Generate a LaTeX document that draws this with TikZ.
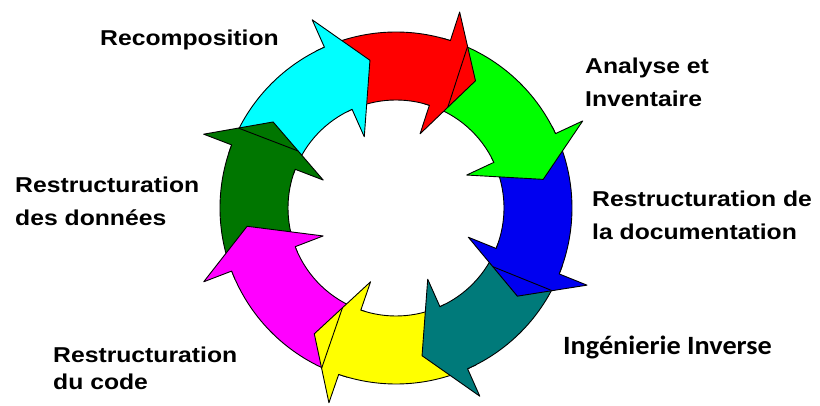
\documentclass[tikz,border=0pt]{standalone}
\usepackage{fontspec}
\setmainfont{Liberation Sans}
\newfontfamily\labelfont{Liberation Sans}[FakeStretch=1.15]
\newfontfamily\invfont{Carlito}[FakeStretch=1.07]
\usetikzlibrary{calc}

\definecolor{cycCyan}{RGB}{0,255,255}
\definecolor{cycRed}{RGB}{255,0,0}
\definecolor{cycGreen}{RGB}{0,255,0}
\definecolor{cycBlue}{RGB}{0,0,240}
\definecolor{cycTeal}{RGB}{0,122,122}
\definecolor{cycYellow}{RGB}{255,255,0}
\definecolor{cycMagenta}{RGB}{255,0,255}
\definecolor{cycDark}{RGB}{0,118,0}

\tikzset{
  ring/.style={draw=black, line width=0.9pt, line join=round},
  lbl/.style={inner sep=0pt, anchor=base west, align=left,
    font={\labelfont\bfseries\fontsize{21.5pt}{33pt}\selectfont}},
}

\begin{document}
\begin{tikzpicture}[x=1pt, y=1pt]

    % --- Adjustable parameters ---
    \def\outerR{176}  % outer radius of the ring
    \def\innerR{108}  % inner radius of the ring
    \def\barbOut{206} % outer barb of a head
    \def\barbIn{78}   % inner barb of a head
    \def\tipR{150}    % radius of the tip
    \def\headLen{14}  % angular length of a head

    \useasboundingbox (-396,-198) rectangle (424,208);

    % --- Ring bodies (clockwise) ---
    \foreach \col/\s/\e in {cycDark/201/159, cycCyan/159/114, cycRed/114/72,
        cycGreen/72/25, cycBlue/25/-22, cycTeal/-22/-66,
        cycYellow/-66/-109, cycMagenta/-109/-159}
      \draw[ring, fill=\col] (\s:\outerR)
        arc[start angle=\s, end angle=\e, radius=\outerR]
        -- (\e:\innerR) arc[start angle=\e, end angle=\s, radius=\innerR] -- cycle;

    % --- Heads, on top of the next body ---
    \foreach \col/\e in {cycDark/159, cycCyan/114, cycRed/72, cycGreen/25,
        cycBlue/-22, cycTeal/-66, cycYellow/-109, cycMagenta/-159}{
      \fill[\col] ({\e+3}:\outerR)
        arc[start angle=\e+3, end angle=\e, radius=\outerR]
        -- (\e:\barbOut) -- ({\e-\headLen}:\tipR) -- (\e:\barbIn) -- (\e:\innerR)
        arc[start angle=\e, end angle=\e+3, radius=\innerR] -- cycle;
      \draw[ring] ({\e+3}:\outerR)
        arc[start angle=\e+3, end angle=\e, radius=\outerR]
        -- (\e:\barbOut) -- ({\e-\headLen}:\tipR) -- (\e:\barbIn) -- (\e:\innerR)
        arc[start angle=\e, end angle=\e+3, radius=\innerR];
    }

    % --- Tail edges seen across some heads ---
    \foreach \e in {159,72,-22,-109}
      \draw[ring] ($(\e:\barbIn)!0.5!({\e-\headLen}:\tipR)$)
        -- ($(\e:\barbOut)!0.5!({\e-\headLen}:\tipR)$);

    % --- Labels (base = baseline of the last line) ---
    \node[lbl] (recomp) at (-296,162) {Recomposition};
    \node[lbl] (analyse) at (189,101) {Analyse et\\Inventaire};
    \node[lbl] (docu) at (196,-32) {Restructuration de\\la documentation};
    \node[lbl, font={\invfont\bfseries\fontsize{26.4pt}{32pt}\selectfont}]
      (inverse) at (167,-147) {Ingénierie Inverse};
    \node[lbl] (donnees) at (-381,-18) {Restructuration\\des données};
    \node[lbl, font={\labelfont\bfseries\fontsize{21.5pt}{27pt}\selectfont}]
      (code) at (-343,-182) {Restructuration\\du code};

\end{tikzpicture}
\end{document}
